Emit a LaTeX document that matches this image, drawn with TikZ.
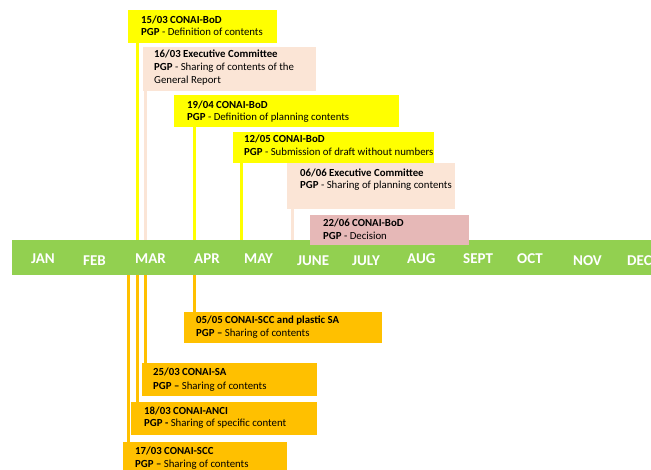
\documentclass[tikz,border=0pt]{standalone}
\usepackage{fontspec}
\setmainfont{Carlito}
\definecolor{yel}{HTML}{FFFF00}
\definecolor{peach}{HTML}{FBE5D6}
\definecolor{pinkb}{HTML}{E6B8B7}
\definecolor{orng}{HTML}{FFC000}
\definecolor{grn}{HTML}{92D050}
\begin{document}
\begin{tikzpicture}[x=1pt,y=-1pt,
  box/.style={draw=none,rectangle,inner sep=0pt,anchor=north west},
  txt/.style={inner sep=0pt,anchor=base west,font=\fontsize{10.8}{13}\selectfont,text=black},
  mon/.style={inner sep=0pt,anchor=base west,font=\fontsize{15}{18}\selectfont\bfseries,text=white},
  yline/.style={draw=yel,line width=3pt},
  pline/.style={draw=peach,line width=3pt},
  oline/.style={draw=orng,line width=3pt}]
\useasboundingbox[fill=white] (0,0) rectangle (651,470);
% timeline bar
\node[box,fill=grn,minimum width=640pt,minimum height=35pt] (bar) at (12,240) {};
% month labels
\node[mon] (jan) at (31,264) {JAN};
\node[mon] (feb) at (83,266) {FEB};
\node[mon] (mar) at (135,264) {MAR};
\node[mon] (apr) at (194,264) {APR};
\node[mon] (may) at (244,264) {MAY};
\node[mon] (jun) at (297,266) {JUNE};
\node[mon] (jul) at (352,266) {JULY};
\node[mon] (aug) at (407,264) {AUG};
\node[mon] (sep) at (463,264) {SEPT};
\node[mon] (oct) at (517,264) {OCT};
\node[mon] (nov) at (573,266) {NOV};
\node[mon] (dec) at (627,266) {DEC};
% top boxes
\node[box,fill=yel,minimum width=149pt,minimum height=33pt] (b1) at (128,10) {};
\node[txt] (b1a) at (141,24) {\textbf{15/03 CONAI-BoD}};
\node[txt] (b1b) at (141,36) {\textbf{PGP} - Definition of contents};
\node[box,fill=peach,minimum width=173pt,minimum height=44pt] (b2) at (143,47) {};
\node[txt] (b2a) at (154,58) {\textbf{16/03 Executive Committee}};
\node[txt] (b2b) at (154,71) {\textbf{PGP} - Sharing of contents of the};
\node[txt] (b2c) at (154,84) {General Report};
\node[box,fill=yel,minimum width=225pt,minimum height=32pt] (b3) at (174,95) {};
\node[txt] (b3a) at (187,109) {\textbf{19/04 CONAI-BoD}};
\node[txt] (b3b) at (187,121) {\textbf{PGP} - Definition of planning contents};
\node[box,fill=yel,minimum width=201pt,minimum height=31pt] (b4) at (233,132) {};
\node[txt] (b4a) at (244,143) {\textbf{12/05 CONAI-BoD}};
\node[txt] (b4b) at (244,156) {\textbf{PGP} - Submission of draft without numbers};
\node[box,fill=peach,minimum width=168pt,minimum height=46pt] (b5) at (287,163) {};
\node[txt] (b5a) at (300,177) {\textbf{06/06 Executive Committee}};
\node[txt] (b5b) at (300,189) {\textbf{PGP} - Sharing of planning contents};
\node[box,fill=pinkb,minimum width=159pt,minimum height=30pt] (b6) at (310,215) {};
\node[txt] (b6a) at (323,227) {\textbf{22/06 CONAI-BoD}};
\node[txt] (b6b) at (323,240) {\textbf{PGP} - Decision};
% bottom boxes
\node[box,fill=orng,minimum width=198pt,minimum height=31pt] (ba) at (184,312) {};
\node[txt] (baa) at (196,324) {\textbf{05/05 CONAI-SCC and plastic SA}};
\node[txt] (bab) at (196,337) {\textbf{PGP –} Sharing of contents};
\node[box,fill=orng,minimum width=175pt,minimum height=33pt] (bb) at (142,363) {};
\node[txt] (bba) at (153,376) {\textbf{25/03 CONAI-SA}};
\node[txt] (bbb) at (153,389) {\textbf{PGP –} Sharing of contents};
\node[box,fill=orng,minimum width=186pt,minimum height=33pt] (bc) at (131,402) {};
\node[txt] (bca) at (144,414) {\textbf{18/03 CONAI-ANCI}};
\node[txt] (bcb) at (144,427) {\textbf{PGP -} Sharing of specific content};
\node[box,fill=orng,minimum width=164pt,minimum height=28pt] (bd) at (123,442) {};
\node[txt] (bda) at (135,454) {\textbf{17/03 CONAI-SCC}};
\node[txt] (bdb) at (135,467) {\textbf{PGP –} Sharing of contents};
% connector x positions
\coordinate (x1) at (137,0);
\coordinate (x2) at (145,0);
\coordinate (x3) at (194,0);
\coordinate (x4) at (241,0);
\coordinate (x5) at (292,0);
\coordinate (x6) at (128,0);
% top connectors
\draw[yline] (b1.south -| x1) -- (bar.north -| x1);
\draw[pline] (b2.south -| x2) -- (bar.north -| x2);
\draw[yline] (b3.south -| x3) -- (bar.north -| x3);
\draw[yline] (b4.south -| x4) -- (bar.north -| x4);
\draw[pline] (b5.south -| x5) -- (bar.north -| x5);
% bottom connectors
\draw[oline] (bar.south -| x3) -- (ba.north -| x3);
\draw[oline] (bar.south -| x2) -- (bb.north -| x2);
\draw[oline] (bar.south -| x1) -- (bc.north -| x1);
\draw[oline] (bar.south -| x6) -- (bd.north -| x6);
\end{tikzpicture}
\end{document}
